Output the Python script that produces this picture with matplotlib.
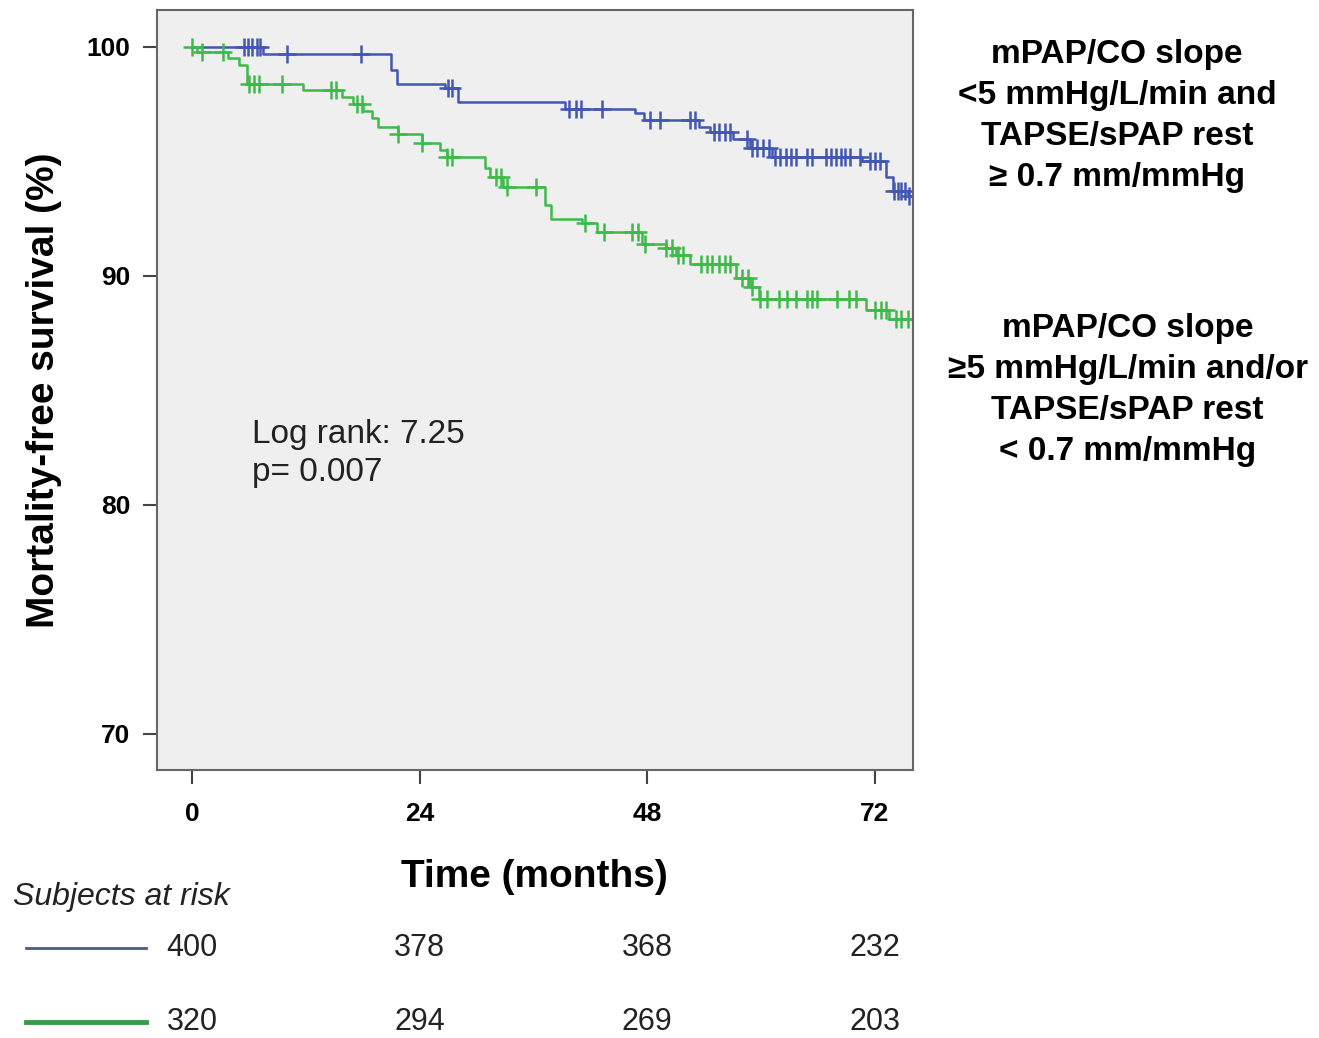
import numpy as np
import matplotlib.pyplot as plt
import matplotlib.transforms as mtransforms

plt.rcParams['font.family'] = ['Liberation Sans', 'DejaVu Sans']

# step curves (months, % survival)
blue_t = [0, 7.5, 21.0, 21.6, 26.7, 28.0, 39.3, 46.7, 47.7, 53.5, 54.6, 57.0,
          58.8, 61.2, 70.7, 73.2, 73.9, 75.5, 76.0]
blue_s = [100, 99.7, 99.0, 98.4, 98.2, 97.6, 97.3, 97.1, 96.8, 96.5, 96.3, 96.0,
          95.6, 95.2, 95.0, 94.3, 93.7, 93.5, 93.5]

green_t = [0, 0.5, 3.8, 5.0, 5.8, 11.7, 15.8, 17.0, 18.0, 19.0, 19.6, 21.7, 24.2,
           26.1, 26.9, 30.9, 31.4, 32.8, 37.2, 37.9, 41.1, 42.7, 47.5, 50.0, 51.0,
           52.5, 57.4, 58.8, 59.8, 71.1, 73.5, 76.0]
green_s = [100, 99.8, 99.5, 99.2, 98.4, 98.1, 97.8, 97.5, 97.2, 96.9, 96.5, 96.2, 95.8,
           95.5, 95.2, 94.7, 94.3, 93.9, 93.1, 92.5, 92.3, 91.9, 91.4, 91.2, 90.9,
           90.5, 89.9, 89.5, 89.0, 88.5, 88.1, 88.1]

# censored observations (months)
blue_cens = [5.5, 5.9, 6.3, 6.8, 7.2, 10.0, 17.8, 27.0, 27.4, 39.8, 40.5, 41.0, 43.2,
             48.3, 49.3, 52.5, 53.0, 55.0, 55.6, 56.2, 56.7, 58.5, 59.0, 59.6, 60.2,
             60.8, 61.5, 62.0, 62.6, 63.2, 63.7, 64.8, 65.4, 66.9, 67.4, 67.9, 68.4,
             68.9, 69.4, 70.4, 71.5, 72.0, 72.5, 74.0, 74.4, 74.8, 75.2, 75.6]
green_cens = [0.0, 1.0, 3.3, 6.0, 6.5, 7.1, 9.5, 14.7, 15.2, 17.4, 17.9, 21.7, 24.2,
              26.9, 27.4, 32.1, 32.6, 33.2, 36.3, 41.4, 43.4, 46.4, 47.0, 47.8, 50.0,
              50.6, 51.2, 51.8, 53.7, 54.3, 54.8, 55.6, 56.2, 56.7, 58.0, 58.6, 59.1,
              59.9, 60.6, 61.9, 62.7, 63.7, 64.8, 65.4, 65.9, 68.0, 69.3, 70.0, 72.0,
              72.6, 73.2, 74.2, 74.8, 75.5]

risk_times = [0, 24, 48, 72]
blue_risk = [400, 378, 368, 232]
green_risk = [320, 294, 269, 203]

blue_label = 'mPAP/CO slope\n<5 mmHg/L/min and\nTAPSE/sPAP rest\n≥ 0.7 mm/mmHg'
green_label = 'mPAP/CO slope\n≥5 mmHg/L/min and/or\nTAPSE/sPAP rest\n< 0.7 mm/mmHg'

BLUE = '#4257b2'
GREEN = '#3dbb4a'


def at(t_steps, s_steps, t):
    idx = np.searchsorted(t_steps, t, side='right') - 1
    return np.asarray(s_steps)[idx]


fig = plt.figure(figsize=(13.19, 10.38), dpi=100)
ax = fig.add_axes([0.119, 0.258, 0.573, 0.732])
ax.set_facecolor('#efefef')

ax.step(blue_t, blue_s, where='post', color=BLUE, lw=1.8)
ax.step(green_t, green_s, where='post', color=GREEN, lw=1.8)
ax.plot(blue_cens, at(blue_t, blue_s, blue_cens), ls='none', marker='+',
        ms=13, mew=1.8, color=BLUE)
ax.plot(green_cens, at(green_t, green_s, green_cens), ls='none', marker='+',
        ms=13, mew=1.8, color=GREEN)

ax.set_xlim(-3.7, 76)
ax.set_ylim(68.4, 101.6)
ax.set_xticks(risk_times)
ax.set_yticks([70, 80, 90, 100])
ax.tick_params(direction='out', length=10, width=1.5, color='#444444',
               labelsize=19)
ax.tick_params(axis='y', pad=9)
ax.tick_params(axis='x', pad=13)
for lab in ax.get_xticklabels() + ax.get_yticklabels():
    lab.set_fontweight('bold')
for sp in ax.spines.values():
    sp.set_color('#666666')
    sp.set_linewidth(1.5)

ax.set_ylabel('Mortality-free survival (%)', fontsize=28, fontweight='bold', labelpad=18)
ax.set_xlabel('Time (months)', fontsize=28, fontweight='bold', labelpad=24)

ax.text(0.126, 0.417, 'Log rank: 7.25\np= 0.007', transform=ax.transAxes,
        fontsize=24, color='#222222', va='center', linespacing=1.3)

fig.text(0.847, 0.888, blue_label, ha='center', va='center', fontsize=24,
         fontweight='bold', linespacing=1.42)
fig.text(0.855, 0.624, green_label, ha='center', va='center', fontsize=24,
         fontweight='bold', linespacing=1.42)

# subjects at risk table
trans = mtransforms.blended_transform_factory(ax.transData, fig.transFigure)
fig.text(0.010, 0.136, 'Subjects at risk', fontsize=23, style='italic',
         color='#222222', va='center')
fig.add_artist(plt.Line2D([0.020, 0.111], [0.087, 0.087], color='#4a5a8c', lw=2))
fig.add_artist(plt.Line2D([0.020, 0.111], [0.015, 0.015], color='#3a9a4c', lw=3.5))
for t, b, g in zip(risk_times, blue_risk, green_risk):
    ax.text(t, 0.087, str(b), transform=trans, ha='center', va='center',
            fontsize=22, color='#222222')
    ax.text(t, 0.015, str(g), transform=trans, ha='center', va='center',
            fontsize=22, color='#222222')

fig.savefig('out.png', dpi=100)
